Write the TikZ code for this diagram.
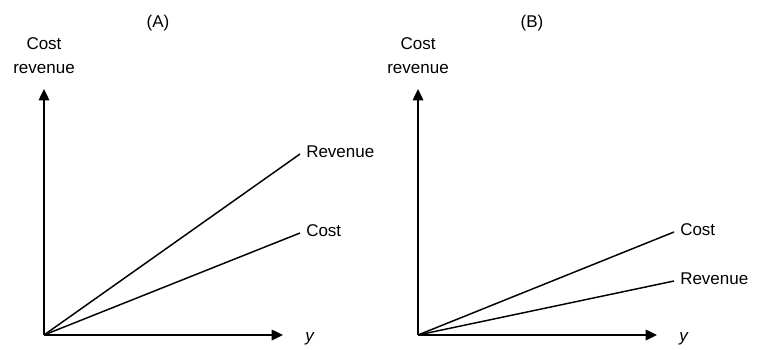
\documentclass[tikz,border=0pt]{standalone}
\usepackage{fontspec}
\setmainfont{Liberation Sans}
\usetikzlibrary{arrows.meta,positioning}

\begin{document}
\begin{tikzpicture}[
    x=0.75pt, y=-0.75pt,
    font=\fontsize{12.75}{18}\selectfont,
    axis/.style={line width=1pt, -{Triangle[length=8.5pt,width=8pt]}},
    curve/.style={line width=1.1pt},
    lbl/.style={anchor=base west, inner sep=0},
    ttl/.style={anchor=base, inner sep=0},
    ylbl/.style={anchor=north, inner sep=0, align=center}]
\useasboundingbox (0,0) rectangle (768,350);

% panel A
\coordinate (OA) at (44,335);
\coordinate (YA) at (44,89);
\coordinate (XA) at (283,335);
\coordinate (RA) at (300,154);
\coordinate (CA) at (300,233);
\node[ttl] (TA) at (158,27) {(A)};
\node[ylbl] (VA) at (44,37) {Cost\\revenue};
\draw[axis] (OA) -- (YA);
\draw[axis] (OA) -- (XA);
\draw[curve] (OA) -- (RA);
\draw[curve] (OA) -- (CA);
\node[lbl] (LRA) at ([shift={(6,3)}]RA) {Revenue};
\node[lbl] (LCA) at ([shift={(6,3)}]CA) {Cost};
\node[lbl] (HA) at ([shift={(22,6)}]XA) {\itshape y};

% panel B
\coordinate (OB) at (418,335);
\coordinate (YB) at (418,89);
\coordinate (XB) at (657,335);
\coordinate (CB) at (674,232);
\coordinate (RB) at (674,281);
\node[ttl] (TB) at (532,27) {(B)};
\node[ylbl] (VB) at (418,37) {Cost\\revenue};
\draw[axis] (OB) -- (YB);
\draw[axis] (OB) -- (XB);
\draw[curve] (OB) -- (CB);
\draw[curve] (OB) -- (RB);
\node[lbl] (LCB) at ([shift={(6,3)}]CB) {Cost};
\node[lbl] (LRB) at ([shift={(6,3)}]RB) {Revenue};
\node[lbl] (HB) at ([shift={(22,6)}]XB) {\itshape y};

\end{tikzpicture}
\end{document}
